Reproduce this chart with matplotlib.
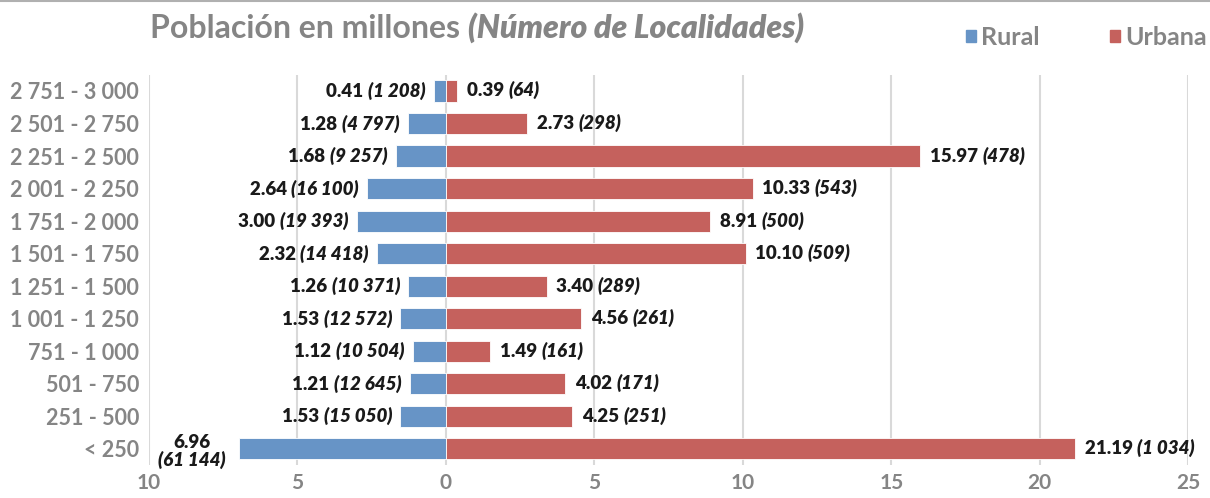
import numpy as np
import matplotlib.pyplot as plt
from matplotlib.patches import Patch
from matplotlib.lines import Line2D
from matplotlib.text import Annotation

plt.rcParams['font.family'] = ['Lato', 'DejaVu Sans']

#%% Datos
categorias = ['2 751 - 3 000', '2 501 - 2 750', '2 251 - 2 500', '2 001 - 2 250',
              '1 751 - 2 000', '1 501 - 1 750', '1 251 - 1 500', '1 001 - 1 250',
              '751 - 1 000', '501 - 750', '251 - 500', '< 250']
rural = [0.41, 1.28, 1.68, 2.64, 3.00, 2.32, 1.26, 1.53, 1.12, 1.21, 1.53, 6.96]
urbana = [0.39, 2.73, 15.97, 10.33, 8.91, 10.10, 3.40, 4.56, 1.49, 4.02, 4.25, 21.19]
loc_rural = ['1 208', '4 797', '9 257', '16 100', '19 393', '14 418', '10 371',
             '12 572', '10 504', '12 645', '15 050', '61 144']
loc_urbana = ['64', '298', '478', '543', '500', '509', '289', '261', '161', '171',
              '251', '1 034']
xticks = [-10, -5, 0, 5, 10, 15, 20, 25]

c_rural = '#6794c6'
c_urb = '#c5615d'
gris = '#858585'
negro = '#1a1a1a'

#%% Figura
fig = plt.figure(figsize=(12.1, 4.98), dpi=100)
ax = fig.add_axes([0.123, 0.066, 0.859, 0.784])

y = np.arange(len(categorias))
ax.barh(y, [-r for r in rural], height=0.65, color=c_rural, edgecolor='white', lw=0.6, zorder=3)
ax.barh(y, urbana, height=0.65, color=c_urb, edgecolor='white', lw=0.6, zorder=3)

ax.set_xlim(-10, 25)
ax.set_ylim(len(categorias) - 0.5, -0.5)
ax.set_xticks(xticks)
ax.set_xticklabels([str(abs(t)) for t in xticks])
ax.set_yticks(y)
ax.set_yticklabels(categorias)
ax.tick_params(length=0, labelcolor=gris)
ax.tick_params(axis='x', pad=6, labelsize=15)
ax.tick_params(axis='y', pad=7, labelsize=15.5)
for lab in ax.get_xticklabels() + ax.get_yticklabels():
    lab.set_fontweight('bold')
for s in ax.spines.values():
    s.set_visible(False)
ax.grid(axis='x', color='#d9d9d9', lw=1.5, zorder=0)
ax.set_axisbelow(True)

fs = 13.5
# etiquetas urbana
for i, (v, n) in enumerate(zip(urbana, loc_urbana)):
    t1 = ax.annotate(f'{v:.2f} ', xy=(v, i), xytext=(7, 0), textcoords='offset points',
                     ha='left', va='center', fontsize=fs, fontweight='heavy', color=negro)
    ax.annotate(f'({n})', xy=(1, 0), xycoords=t1, ha='left', va='bottom',
                fontsize=fs, fontweight='heavy', style='italic', color=negro)

# etiquetas rural
for i, (v, n) in enumerate(zip(rural, loc_rural)):
    if i == len(rural) - 1:
        t2 = ax.annotate(f'({n})', xy=(-v, i), xytext=(-34, -8), textcoords='offset points',
                         ha='center', va='center', fontsize=fs, fontweight='heavy',
                         style='italic', color=negro)
        ax.annotate(f'{v:.2f}', xy=(0.5, 1), xycoords=t2, ha='center', va='bottom',
                    fontsize=fs, fontweight='heavy', color=negro)
        continue
    t2 = ax.annotate(f'({n})', xy=(-v, i), xytext=(-6, 0), textcoords='offset points',
                     ha='right', va='center', fontsize=fs, fontweight='heavy',
                     style='italic', color=negro)
    ax.annotate(f'{v:.2f} ', xy=(0, 0), xycoords=t2, ha='right', va='bottom',
                fontsize=fs, fontweight='heavy', color=negro)

# titulo
tt = fig.text(0.124, 0.943, 'Población en millones ', ha='left', va='center',
              fontsize=23, fontweight='bold', color=gris)
ann = Annotation('(Número de Localidades)', xy=(1, 0), xycoords=tt, ha='left', va='bottom',
                 fontsize=23, fontweight='heavy', style='italic', color=gris)
fig.add_artist(ann)

# leyenda
handles = [Patch(color=c_rural, label='Rural'), Patch(color=c_urb, label='Urbana')]
leg = fig.legend(handles=handles, loc='center', bbox_to_anchor=(0.898, 0.925), ncol=2,
                 frameon=False, handlelength=0.4, handleheight=0.4, handletextpad=0.2,
                 columnspacing=2.8, fontsize=18)
for t in leg.get_texts():
    t.set_color(gris)
    t.set_fontweight('bold')

fig.add_artist(Line2D([0, 1], [0.998, 0.998], color='#b0b0b0', lw=1.5))

fig.savefig('out.png', dpi=100)
